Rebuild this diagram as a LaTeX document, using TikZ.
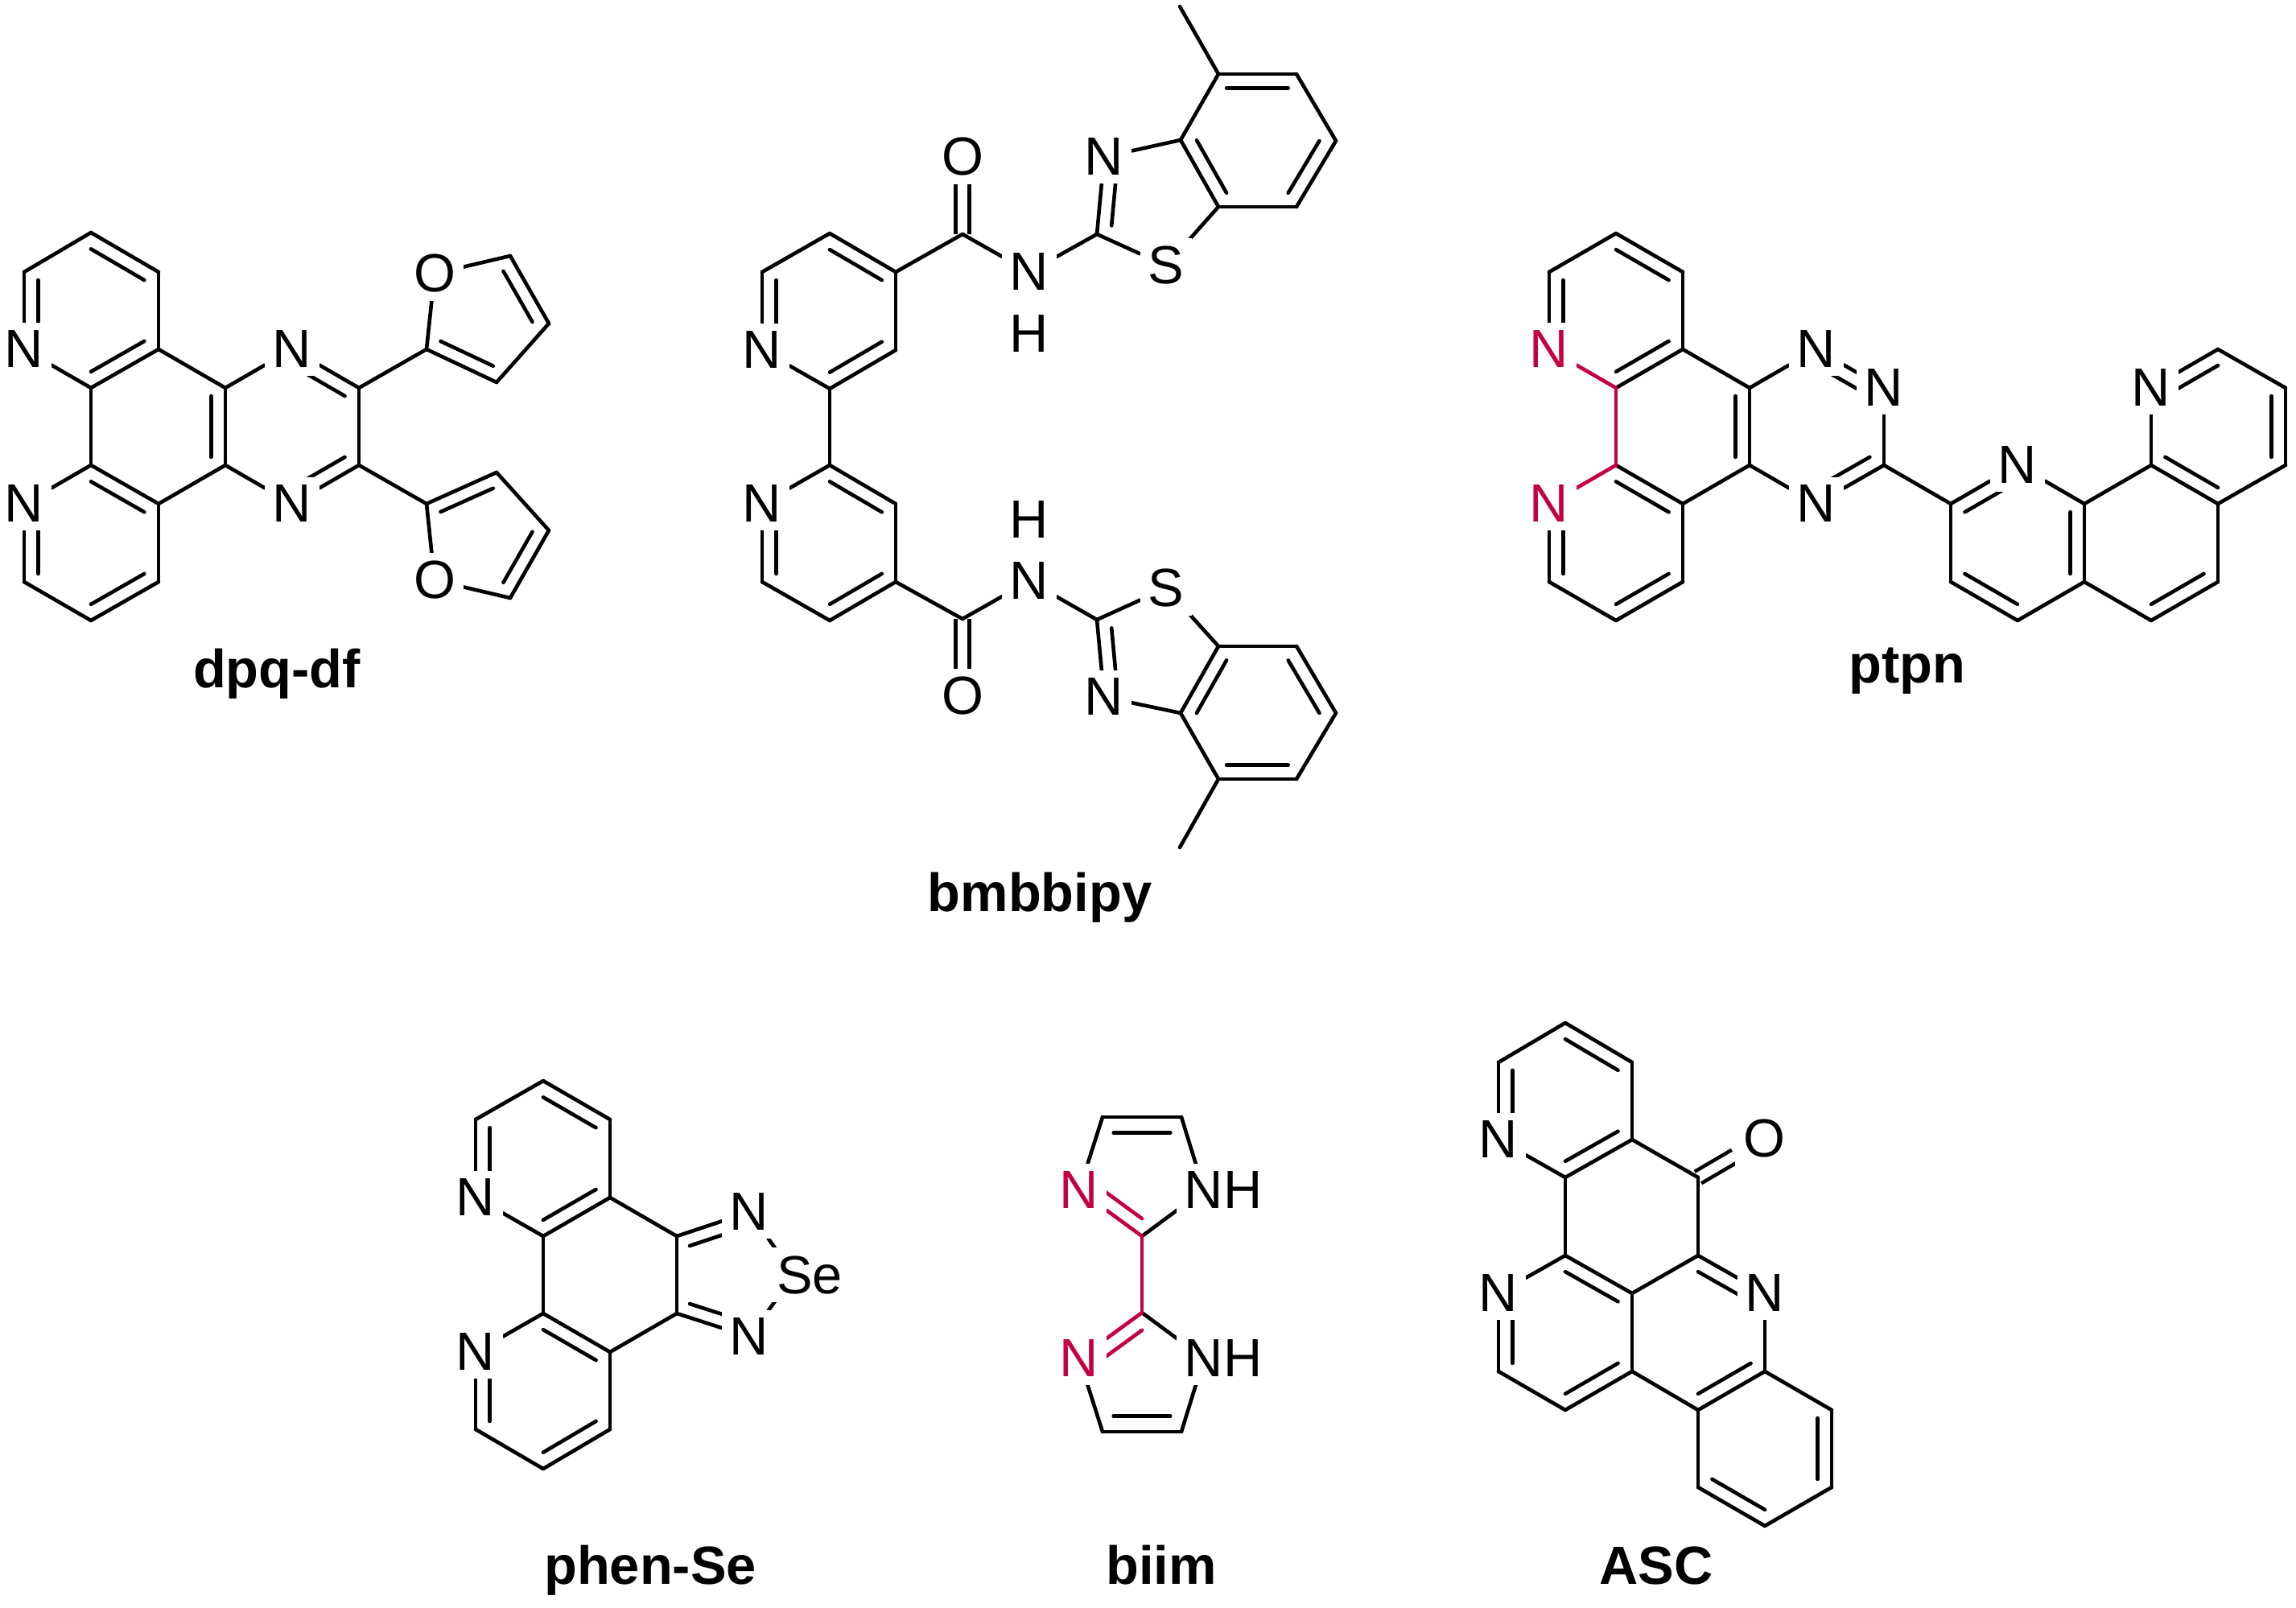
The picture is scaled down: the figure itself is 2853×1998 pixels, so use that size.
\documentclass[tikz,border=0pt]{standalone}
\usepackage{fontspec}
\setmainfont{Liberation Sans}
\usetikzlibrary{calc,backgrounds}
\definecolor{ringred}{RGB}{196,0,62}
\tikzset{
  atom/.style={font=\fontsize{19}{23}\selectfont, fill=white, inner sep=0.1cm, outer sep=0pt},
  redatom/.style={atom, text=ringred},
  molname/.style={font=\fontsize{19}{23}\selectfont\bfseries, anchor=base, inner sep=0pt},
  bond/.style={line width=0.046cm, line cap=round},
  redbond/.style={bond, draw=ringred},
  cobond/.style={line width=0.046cm, double, double distance=0.12cm}
}
\begin{document}
\begin{tikzpicture}[x=0.01cm,y=-0.01cm]
\useasboundingbox (0,0) rectangle (2853,1998);
% dpq-df
\foreach \n/\x/\y in {da/113/289, db/197/338, dc/197/434, dd/113/482, df/30/338, dg/113/578, dh/197/626,
  di/197/723, dj/113/771, dk/30/723, dl/280/482, dm/280/578, dn/446/482, do/446/578, dp/530/434,
  dq/634/318, dr/682/402, ds/617/475, dt/530/626, du/634/743, dv/682/659, dw/617/587,
  dr1/113/386, dr2/113/675, dr3/197/530, dr4/363/530, dr5/600/394, dr6/600/666}
  \coordinate (\n) at (\x,\y);
\foreach \n/\lab/\x/\y in {dn1/N/30/434, dn2/N/30/626, dn3/N/363/434, dn4/N/363/626, do1/O/540/340, do2/O/540/721}
  \node[atom] (\n) at (\x,\y) {\lab};
\node[molname] (lbdpq) at (344,855) {dpq-df};
\begin{scope}[on background layer]
\foreach \ba/\bb in {da/db, db/dc, dc/dd, dd/dn1, dn1/df, df/da, dd/dg, dg/dh, dh/di, di/dj, dj/dk, dk/dn2, dn2/dg,
  dc/dl, dl/dm, dm/dh, dl/dn3, dn3/dn, dn/do, do/dn4, dn4/dm, dn/dp, dp/do1, do1/dq, dq/dr, dr/ds, ds/dp,
  do/dt, dt/do2, do2/du, du/dv, dv/dw, dw/dt}
  \draw[bond] (\ba) -- (\bb);
\foreach \ba/\bb/\cen/\f in {da/db/dr1/.21, dc/dd/dr1/.21, df/dn1/dr1/.21, dg/dh/dr2/.21, di/dj/dr2/.21, dk/dn2/dr2/.21,
  dl/dm/dr3/.21, dn3/dn/dr4/.21, dn4/do/dr4/.21, dp/ds/dr5/.25, dq/dr/dr5/.25, dt/dw/dr6/.25, du/dv/dr6/.25}
  \draw[bond] ($(\ba)!\f!(\cen)$) -- ($(\bb)!\f!(\cen)$);
\end{scope}
% bmbbipy
\foreach \n/\x/\y in {ba/1031/290, bb/1113/338, bc/1113/435, bd/1031/483, bf/947/338, bg/1196/291, bh/1363/291,
  bi/1467/174, bj/1514/257, bk/1514/92, bl/1611/92, bm/1660/175, bp/1611/257, bq/1466/8,
  ca/1031/771, cb/1113/723, cc/1113/626, cd/1031/578, cf/947/723, cg/1196/769, ch/1363/770,
  ci/1467/886, cj/1514/803, ck/1514/968, cl/1611/968, cm/1660/886, cp/1611/803, cq/1466/1053,
  br1/1031/386, br2/1433/250, br3/1562/175, cr1/1031/675, cr2/1433/810, cr3/1562/886}
  \coordinate (\n) at (\x,\y);
\foreach \n/\lab/\x/\y in {bn1/N/947/435, bo1/O/1196/195, bn2/N/1279/338, bh1/H/1279/415, bs1/S/1449/330, bn3/N/1372/195,
  cn1/N/947/626, co1/O/1196/865, cn2/N/1279/722, ch1/H/1279/646, cs1/S/1449/731, cn3/N/1372/866}
  \node[atom] (\n) at (\x,\y) {\lab};
\node[molname] (lbbmb) at (1292,1133) {bmbbipy};
\begin{scope}[on background layer]
\draw[cobond] (bg) -- (bo1);
\draw[cobond] (cg) -- (co1);
\foreach \ba/\bb in {ba/bb, bb/bc, bc/bd, bd/bn1, bn1/bf, bf/ba, bb/bg, bg/bn2, bn2/bh, bh/bs1, bs1/bj, bj/bi, bi/bn3, bn3/bh,
  bi/bk, bk/bl, bl/bm, bm/bp, bp/bj, bk/bq, bd/cd,
  ca/cb, cb/cc, cc/cd, cd/cn1, cn1/cf, cf/ca, cb/cg, cg/cn2, cn2/ch, ch/cs1, cs1/cj, cj/ci, ci/cn3, cn3/ch,
  ci/ck, ck/cl, cl/cm, cm/cp, cp/cj, ck/cq}
  \draw[bond] (\ba) -- (\bb);
\foreach \ba/\bb/\cen/\f in {ba/bb/br1/.21, bc/bd/br1/.21, bf/bn1/br1/.21, bh/bn3/br2/.26, bi/bj/br3/.21, bk/bl/br3/.21, bm/bp/br3/.21,
  ca/cb/cr1/.21, cc/cd/cr1/.21, cf/cn1/cr1/.21, ch/cn3/cr2/.26, ci/cj/cr3/.21, ck/cl/cr3/.21, cm/cp/cr3/.21}
  \draw[bond] ($(\ba)!\f!(\cen)$) -- ($(\bb)!\f!(\cen)$);
\end{scope}
% ptpn
\foreach \n/\x/\y in {pa/2008/290, pb/2091/338, pc/2091/434, pd/2008/482, pf/1925/338, pg/2008/578, ph/2091/626,
  pi/2091/723, pj/2008/771, pk/1925/723, pl/2174/482, pm/2174/578, pp/2341/578, pq/2424/626, pr/2590/626,
  ps/2590/723, pt/2507/771, pu/2424/723, pv/2673/578, pw/2756/434, px/2840/482, py/2840/578, pz/2756/626,
  qa/2756/723, qb/2673/771, qr1/2008/386, qr2/2008/675, qr3/2091/530, qr4/2257/530, qr5/2507/675, qr6/2673/675, qr7/2756/530}
  \coordinate (\n) at (\x,\y);
\foreach \n/\lab/\x/\y in {pn3/N/2257/434, pn4/N/2341/482, pn5/N/2257/626, pn6/N/2507/578, pn7/N/2673/482}
  \node[atom] (\n) at (\x,\y) {\lab};
\foreach \n/\lab/\x/\y in {pn1/N/1925/434, pn2/N/1925/626}
  \node[redatom] (\n) at (\x,\y) {\lab};
\node[molname] (lbptpn) at (2370,849) {ptpn};
\begin{scope}[on background layer]
\foreach \ba/\bb in {pa/pb, pb/pc, pc/pd, pn1/pf, pf/pa, pg/ph, ph/pi, pi/pj, pj/pk, pk/pn2, pc/pl, pl/pm, pm/ph,
  pl/pn3, pn3/pn4, pn4/pp, pp/pn5, pn5/pm, pp/pq, pq/pn6, pn6/pr, pr/ps, ps/pt, pt/pu, pu/pq,
  pr/pv, pv/pn7, pn7/pw, pw/px, px/py, py/pz, pz/pv, pz/qa, qa/qb, qb/ps}
  \draw[bond] (\ba) -- (\bb);
\foreach \ba/\bb in {pd/pn1, pd/pg, pg/pn2}
  \draw[redbond] (\ba) -- (\bb);
\foreach \ba/\bb/\cen in {pa/pb/qr1, pc/pd/qr1, pf/pn1/qr1, pg/ph/qr2, pi/pj/qr2, pk/pn2/qr2, pl/pm/qr3, pn3/pn4/qr4, pp/pn5/qr4,
  pq/pn6/qr5, pr/ps/qr5, pt/pu/qr5, pv/pz/qr7, pn7/pw/qr7, px/py/qr7, qa/qb/qr6}
  \draw[bond] ($(\ba)!.21!(\cen)$) -- ($(\bb)!.21!(\cen)$);
\end{scope}
% phen-Se
\foreach \n/\x/\y in {sa/675/1343, sb/758/1391, sc/758/1488, sd/675/1536, sf/591/1391, sg/675/1632, sh/758/1680,
  si/758/1776, sj/675/1825, sk/591/1776, sl/841/1536, sm/841/1632,
  sr1/675/1440, sr2/675/1728, sr3/905/1584}
  \coordinate (\n) at (\x,\y);
\foreach \n/\lab/\x/\y in {sn1/N/591/1488, sn2/N/591/1680, sn3/N/931/1506, sn4/N/931/1661, sse/Se/1006/1584}
  \node[atom] (\n) at (\x,\y) {\lab};
\node[molname] (lbphen) at (808,1968) {phen-Se};
\begin{scope}[on background layer]
\foreach \ba/\bb in {sa/sb, sb/sc, sc/sd, sd/sn1, sn1/sf, sf/sa, sd/sg, sg/sh, sh/si, si/sj, sj/sk, sk/sn2, sn2/sg,
  sc/sl, sl/sm, sm/sh, sl/sn3, sm/sn4}
  \draw[bond] (\ba) -- (\bb);
\draw[bond] (sn3) -- ($(sse)+(-19,0)$);
\draw[bond] (sn4) -- ($(sse)+(-19,0)$);
\foreach \ba/\bb/\cen/\f in {sa/sb/sr1/.21, sc/sd/sr1/.21, sf/sn1/sr1/.21, sg/sh/sr2/.21, si/sj/sr2/.21, sk/sn2/sr2/.21,
  sl/sn3/sr3/.25, sm/sn4/sr3/.25}
  \draw[bond] ($(\ba)!\f!(\cen)$) -- ($(\bb)!\f!(\cen)$);
\end{scope}
% biim
\foreach \n/\x/\y in {ia/1370/1388, ib/1468/1388, ic/1419/1536, id/1419/1631, ie/1370/1779, if/1468/1779,
  ir1/1419/1458, ir2/1419/1709}
  \coordinate (\n) at (\x,\y);
\foreach \n/\lab/\x/\y in {in1/N/1341/1479, in2/N/1341/1688}
  \node[redatom] (\n) at (\x,\y) {\lab};
\foreach \n/\lab/\x/\y in {ih1/NH/1520/1479, ih2/NH/1520/1688}
  \node[atom] (\n) at (\x,\y) {\lab};
\node[molname] (lbbiim) at (1443,1968) {biim};
\begin{scope}[on background layer]
\foreach \ba/\bb in {ia/ib, ie/if, ia/in1, ie/in2}
  \draw[bond] (\ba) -- (\bb);
\draw[bond] (ib) -- ($(ih1)+(-24,0)$);
\draw[bond] (ic) -- ($(ih1)+(-24,0)$);
\draw[bond] (if) -- ($(ih2)+(-24,0)$);
\draw[bond] (id) -- ($(ih2)+(-24,0)$);
\foreach \ba/\bb in {ic/in1, ic/id, id/in2}
  \draw[redbond] (\ba) -- (\bb);
\draw[bond] ($(ia)!.28!(ir1)$) -- ($(ib)!.28!(ir1)$);
\draw[bond] ($(ie)!.28!(ir2)$) -- ($(if)!.28!(ir2)$);
\draw[redbond] ($(in1)!.28!(ir1)$) -- ($(ic)!.28!(ir1)$);
\draw[redbond] ($(in2)!.28!(ir2)$) -- ($(id)!.28!(ir2)$);
\end{scope}
% ASC
\foreach \n/\x/\y in {aa/1945/1271, ab/2028/1320, ac/2028/1416, ad/1945/1463, af/1862/1320, ag/1945/1560, ah/2028/1607,
  ai/2028/1704, aj/1945/1752, ak/1862/1704, al/2110/1463, am/2110/1560, ap/2193/1704, aq/2110/1752, ar/2110/1848,
  as/2193/1896, at/2276/1848, au/2276/1752, ar1/1945/1367, ar2/1945/1656, ar3/2110/1656, ar4/2193/1800}
  \coordinate (\n) at (\x,\y);
\foreach \n/\lab/\x/\y in {an1/N/1862/1416, an2/N/1862/1607, an3/N/2193/1607, ao1/O/2192/1415}
  \node[atom] (\n) at (\x,\y) {\lab};
\node[molname] (lbasc) at (2058,1968) {ASC};
\begin{scope}[on background layer]
\draw[cobond] (al) -- (ao1);
\foreach \ba/\bb in {aa/ab, ab/ac, ac/ad, ad/an1, an1/af, af/aa, ad/ag, ag/ah, ah/ai, ai/aj, aj/ak, ak/an2, an2/ag,
  ac/al, al/am, am/ah, am/an3, an3/ap, ap/aq, aq/ai, aq/ar, ar/as, as/at, at/au, au/ap}
  \draw[bond] (\ba) -- (\bb);
\foreach \ba/\bb/\cen in {aa/ab/ar1, ac/ad/ar1, af/an1/ar1, ag/ah/ar2, ai/aj/ar2, ak/an2/ar2, am/an3/ar3, ap/aq/ar3, au/at/ar4, ar/as/ar4}
  \draw[bond] ($(\ba)!.21!(\cen)$) -- ($(\bb)!.21!(\cen)$);
\end{scope}
\end{tikzpicture}
\end{document}
